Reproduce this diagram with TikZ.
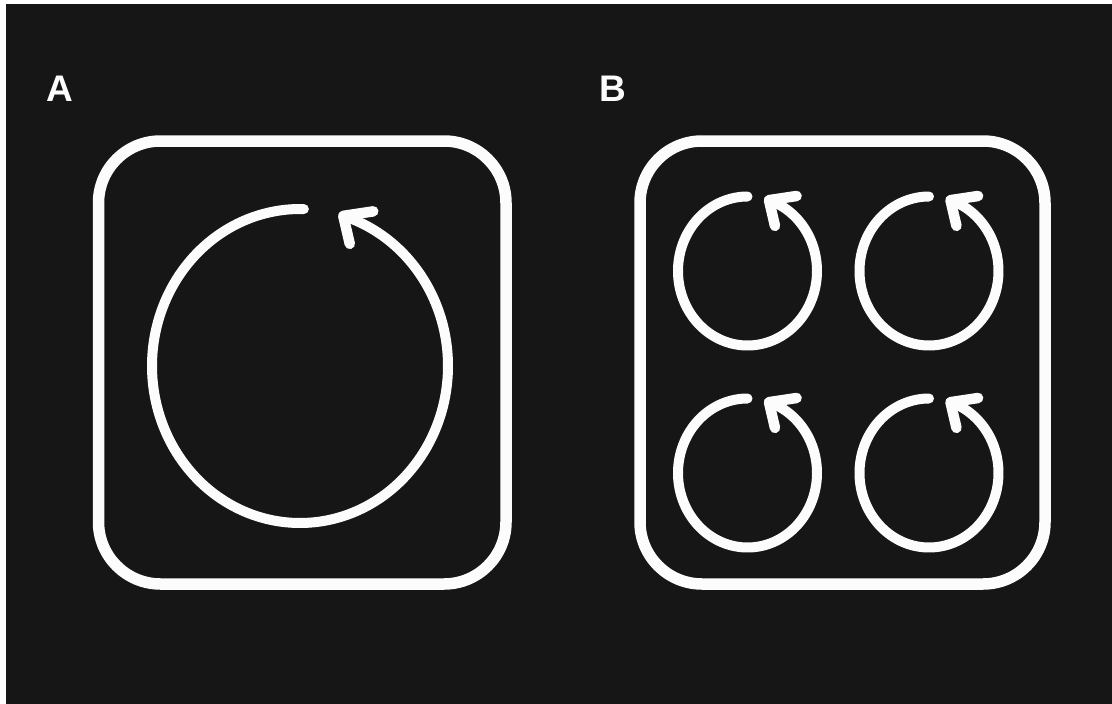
\documentclass[tikz,border=0pt]{standalone}
\usepackage{fontspec}
\setmainfont{Liberation Sans}
\definecolor{bgdark}{HTML}{161616}
\definecolor{fg}{HTML}{FCFCFC}
\tikzset{
  panel/.style={draw=fg, line width=11.5pt, rounded corners=62pt},
  loopline/.style={draw=fg, line width=10pt, line cap=round, line join=round},
  barb/.style={draw=fg, line width=10.5pt, line cap=round, line join=round},
  lbl/.style={text=fg, font=\fontsize{37}{37}\selectfont\bfseries, anchor=base, inner sep=0pt}
}
\newcommand{\cycarrow}[7]{% cx cy rx ry startangle endangle barbscale
  \draw[loopline] plot[domain=#5:#6+360, samples=160, smooth]
     ({#1+#3*cos(\x)}, {#2-#4*sin(\x)});
  \coordinate (tip) at ({#1+#3*cos(#6)}, {#2-#4*sin(#6)});
  \draw[barb] ($(tip)+(#7*30,-#7*4.5)$) -- (tip) -- ($(tip)+(#7*6.5,#7*28)$);
}
\usetikzlibrary{calc}
\begin{document}
\begin{tikzpicture}[x=1pt, y=-1pt]
\useasboundingbox (0,0) rectangle (1112,704);
\fill[white] (0,0) rectangle (1112,704);
\fill[bgdark] (6,4) rectangle (1112,704);
% labels
\node[lbl] (labA) at (60,101.5) {A};
\node[lbl] (labB) at (613,101.5) {B};
% panels
\draw[panel] (98.5,141) rectangle (506,584);
\draw[panel] (640,141) rectangle (1045,584);
% panel A: one large cycle
\cycarrow{300}{366}{148}{157}{88.5}{73}{1.0}
% panel B: four small cycles
\cycarrow{747.5}{271}{69.5}{74.5}{90}{72}{0.92}
\cycarrow{929}{271}{69.5}{74.5}{90}{72}{0.92}
\cycarrow{747.5}{473}{69.5}{74.5}{90}{72}{0.92}
\cycarrow{929}{473}{69.5}{74.5}{90}{72}{0.92}
\end{tikzpicture}
\end{document}
